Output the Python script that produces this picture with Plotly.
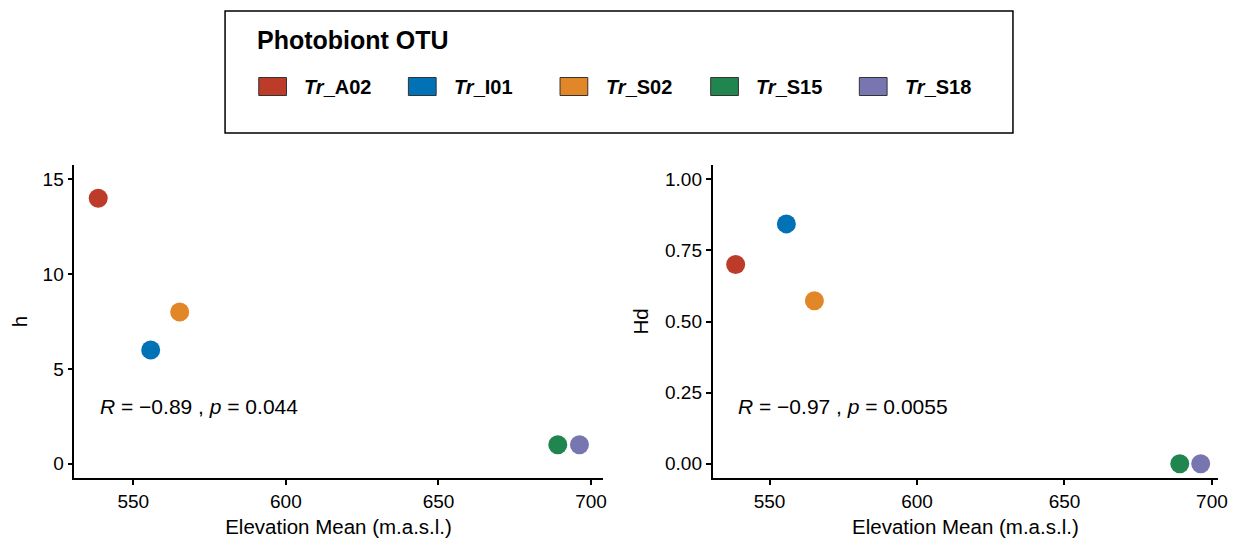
import plotly.graph_objects as go

# ---------------- data ----------------
otus = ["Tr_A02", "Tr_I01", "Tr_S02", "Tr_S15", "Tr_S18"]
colors = ["#BC3C29", "#0072B5", "#E18727", "#20854E", "#7876B1"]
elevation = [538.5, 555.7, 565.2, 689.1, 696.2]
h_values = [14, 6, 8, 1, 1]
hd_values = [0.70, 0.843, 0.573, 0.0, 0.0]
cor_h = ("-0.89", "0.044")
cor_hd = ("-0.97", "0.0055")
x_ticks = [550, 600, 650, 700]
h_ticks = [0, 5, 10, 15]
hd_ticks = [0.0, 0.25, 0.5, 0.75, 1.0]
hd_ticklabels = ["0.00", "0.25", "0.50", "0.75", "1.00"]

# page offset of the plot div (browser default body margin)
OFF = 8
W, H = 1240 - OFF, 538 - OFF
FONT = "Liberation Sans, Arial, Helvetica, sans-serif"

def px(x):
    return (x - OFF) / W

def py(y):
    return 1 - (y - OFF) / H

fig = go.Figure()

for i, otu in enumerate(otus):
    fig.add_trace(go.Scatter(
        x=[elevation[i]], y=[h_values[i]], mode="markers",
        marker=dict(size=19, color=colors[i]), name=otu,
        showlegend=False, xaxis="x", yaxis="y"))
    fig.add_trace(go.Scatter(
        x=[elevation[i]], y=[hd_values[i]], mode="markers",
        marker=dict(size=19, color=colors[i]), name=otu,
        showlegend=False, xaxis="x2", yaxis="y2"))

xrange_left = [530.7, 703.8]
xrange_right = [530.7, 702.1]

axis_common = dict(
    showline=True, linecolor="black", linewidth=1.8,
    ticks="outside", ticklen=5, tickwidth=1.5, tickcolor="black",
    showgrid=False, zeroline=False,
    tickfont=dict(family=FONT, size=19, color="black"),
)
title_font = dict(family=FONT, size=20.5, color="black")

ydom = [py(478), py(165)]
fig.update_layout(
    width=W, height=H,
    margin=dict(l=0, r=0, t=0, b=0),
    paper_bgcolor="white", plot_bgcolor="white",
    font=dict(family=FONT, color="black"),
    xaxis=dict(domain=[px(74), px(607)], range=xrange_left, tickvals=x_ticks,
               anchor="y",
               title=dict(text="Elevation Mean (m.a.s.l.)", standoff=9,
                          font=title_font),
               **axis_common),
    yaxis=dict(domain=ydom, range=[-0.75, 15.75], tickvals=h_ticks,
               anchor="x",
               title=dict(text="h", standoff=20, font=title_font),
               **axis_common),
    xaxis2=dict(domain=[px(718), px(1228)], range=xrange_right, tickvals=x_ticks,
                anchor="y2",
                title=dict(text="Elevation Mean (m.a.s.l.)", standoff=9,
                           font=title_font),
                **axis_common),
    yaxis2=dict(domain=ydom, range=[-0.05, 1.05], tickvals=hd_ticks,
                ticktext=hd_ticklabels, anchor="x2",
                title=dict(text="Hd", standoff=11, font=title_font),
                **axis_common),
)

# correlation labels
def cor_text(r, p):
    return f"<i>R</i> = \u2212{r.lstrip('-')} , <i>p</i> = {p}"

fig.add_annotation(x=min(elevation), y=3.0, xref="x", yref="y",
                   text=cor_text(*cor_h), showarrow=False,
                   xanchor="left", yanchor="middle",
                   font=dict(family=FONT, size=21, color="black"))
fig.add_annotation(x=min(elevation), y=0.2, xref="x2", yref="y2",
                   text=cor_text(*cor_hd), showarrow=False,
                   xanchor="left", yanchor="middle",
                   font=dict(family=FONT, size=21, color="black"))

# ---------------- legend (drawn) ----------------
fig.add_shape(type="rect", xref="paper", yref="paper",
              x0=px(226), x1=px(1021), y0=py(133), y1=py(11),
              line=dict(color="black", width=1.5), fillcolor="white")
fig.add_annotation(xref="paper", yref="paper", x=px(256), y=py(40),
                   text="<b>Photobiont OTU</b>", showarrow=False,
                   xanchor="left", yanchor="middle",
                   font=dict(family=FONT, size=25, color="black"))
key_x = [260, 411, 564, 716, 866]
for i, otu in enumerate(otus):
    k = key_x[i]
    fig.add_shape(type="rect", xref="paper", yref="paper",
                  x0=px(k), x1=px(k + 28), y0=py(95.5), y1=py(77.5),
                  line=dict(color="#333333", width=1), fillcolor=colors[i])
    pre, post = otu.split("_", 1)
    fig.add_annotation(xref="paper", yref="paper", x=px(k + 44), y=py(86.5),
                       text=f"<b><i>{pre}</i>_{post}</b>", showarrow=False,
                       xanchor="left", yanchor="middle",
                       font=dict(family=FONT, size=20, color="black"))

fig.write_html("out.html")
